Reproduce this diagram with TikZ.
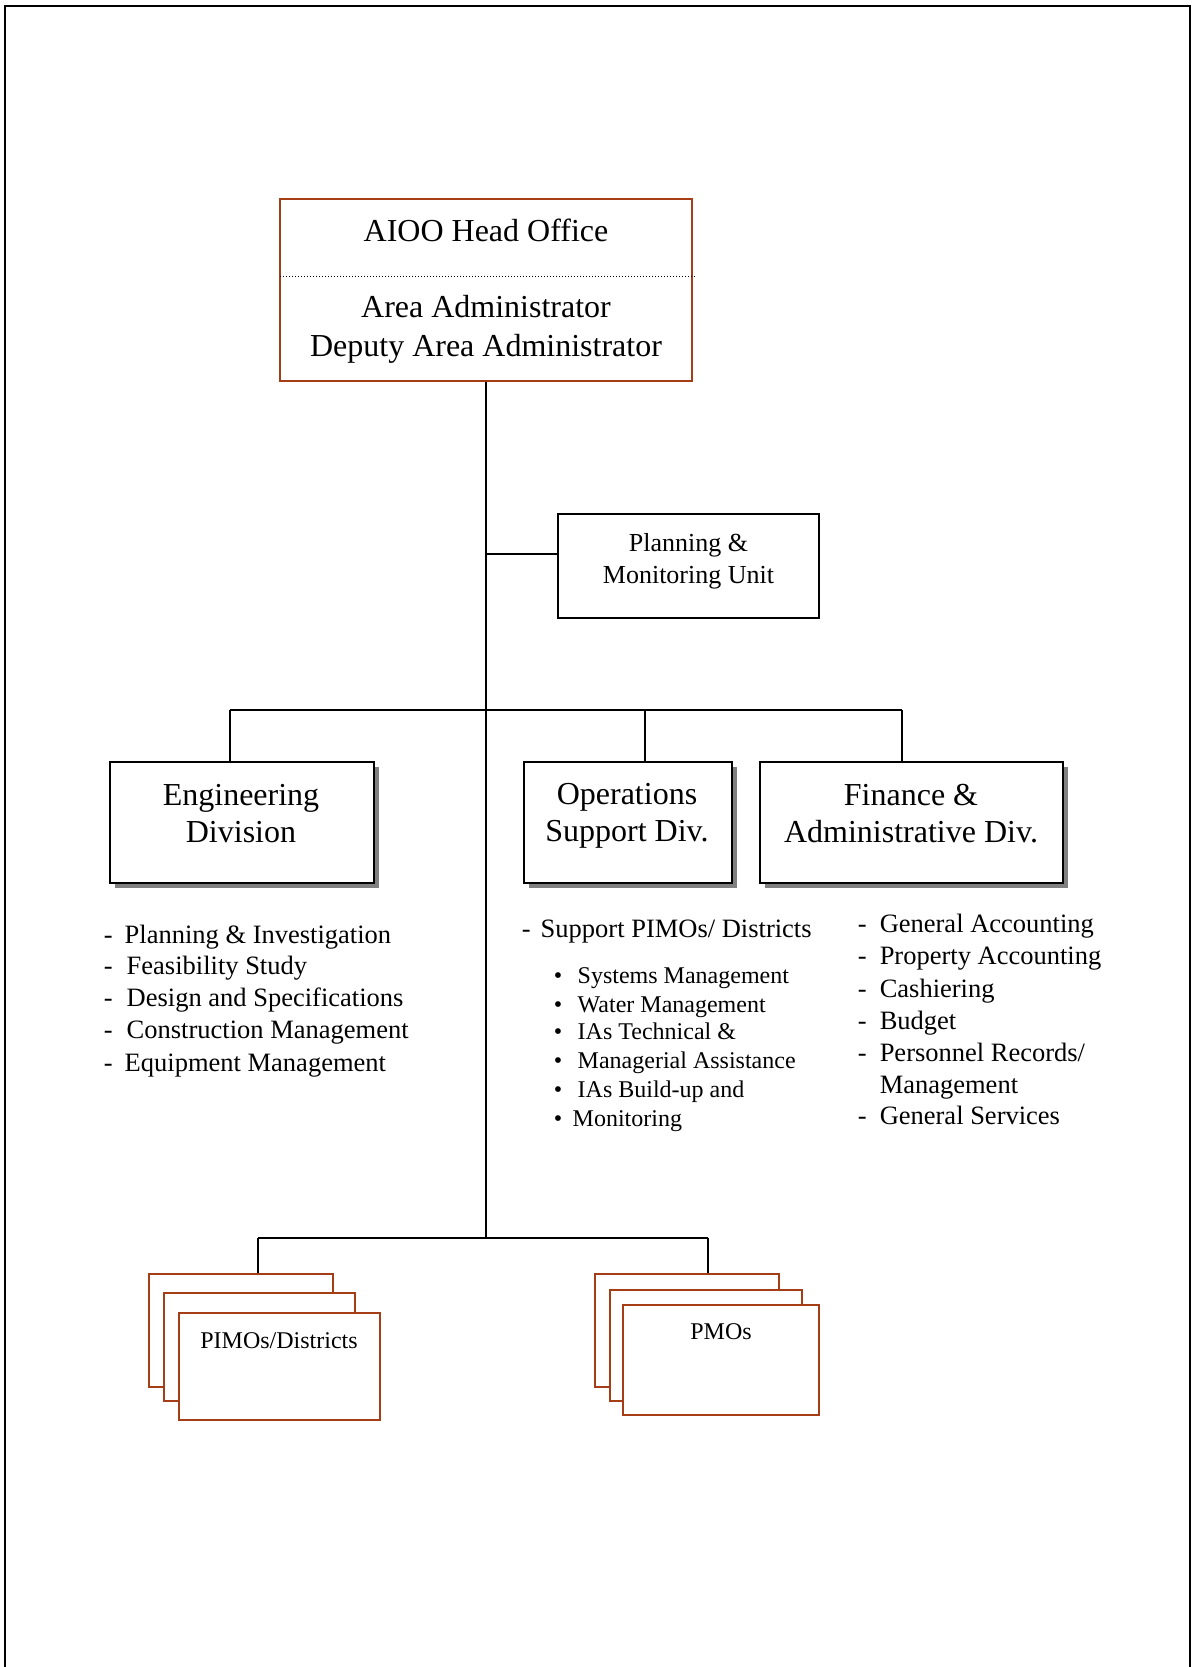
\documentclass[tikz,border=0pt]{standalone}
\usepackage{fontspec}
\setmainfont{Liberation Serif}
\usetikzlibrary{shadows}
\definecolor{brn}{RGB}{165,62,22}
\begin{document}
\begin{tikzpicture}[x=1pt,y=-1pt,line width=1.5pt,
  hbox/.style={draw=brn,line width=2pt,inner sep=0pt,fill=white},
  dbox/.style={draw=black,line width=1.6pt,inner sep=0pt,fill=white,
    drop shadow={shadow xshift=5pt,shadow yshift=-5pt,fill=black!50,opacity=1}},
  pbox/.style={draw=black,line width=1.6pt,inner sep=0pt,fill=white},
  sbox/.style={draw=brn,line width=1.8pt,inner sep=0pt,fill=white},
  big/.style={font=\fontsize{32}{38}\selectfont,align=center,inner sep=0pt},
  mid/.style={font=\fontsize{26.5}{32}\selectfont,inner sep=0pt,anchor=base west},
  sml/.style={font=\fontsize{24}{28}\selectfont,inner sep=0pt,anchor=base west},
  conn/.style={draw=black,line width=1.5pt}]
\useasboundingbox (0,0) rectangle (1192,1667);
% outer frame
\draw[line width=2.2pt] (5,1667) -- (5,6) -- (1190,6) -- (1190,1667);
% head office
\node[hbox,minimum width=412pt,minimum height=182pt] (head) at (486,290) {};
\draw[line width=1pt,dotted] (280,276) -- (695,276);
\node[big] (headt) at (486,230) {AIOO Head Office};
\node[big] (headt2) at (486,329) {Area Administrator\\[1pt]Deputy Area Administrator};
% planning
\node[pbox,minimum width=261pt,minimum height=104pt] (plan) at (688.5,566) {};
\node[font=\fontsize{26}{32}\selectfont,align=center,inner sep=0pt] (plant) at (688.5,561) {Planning \&\\Monitoring Unit};
% divisions
\node[dbox,minimum width=264pt,minimum height=121pt] (eng) at (242,822.5) {};
\node[dbox,minimum width=208pt,minimum height=121pt] (ops) at (628,822.5) {};
\node[dbox,minimum width=303pt,minimum height=121pt] (fin) at (911.5,822.5) {};
\node[big,font=\fontsize{32}{37}\selectfont] (engt) at (241,814) {Engineering\\Division};
\node[big,font=\fontsize{32}{37}\selectfont] (opst) at (627,816) {Operations\\Support Div.};
\node[big,font=\fontsize{32}{37}\selectfont] (fint) at (911,814) {Finance \&\\Administrative Div.};
% connectors
\coordinate (bb) at (486,1238);
\coordinate (pj) at (486,554);
\coordinate (b1) at (230,710);
\coordinate (b2) at (902,710);
\coordinate (b3) at (645,710);
\draw[conn] (head.south) -- (bb);
\draw[conn] (pj) -- (pj -| plan.west);
\draw[conn] (b1) -- (b2);
\draw[conn] (b1) -- (b1 |- eng.north);
\draw[conn] (b3) -- (b3 |- ops.north);
\draw[conn] (b2) -- (b2 |- fin.north);
% engineering list
\newcommand{\dsh}[2][18pt]{\makebox[#1][l]{-}#2}
\node[mid] (e1) at (103,943) {\dsh[21pt]{Planning \& Investigation}};
\node[mid] (e2) at (103,974) {\dsh[23pt]{Feasibility Study}};
\node[mid] (e3) at (103,1006) {\dsh[23pt]{Design and Specifications}};
\node[mid] (e4) at (103,1038) {\dsh[23pt]{Construction Management}};
\node[mid] (e5) at (103,1071) {\dsh[21pt]{Equipment Management}};
% operations list
\node[mid] (o0) at (521,937) {\dsh[19pt]{Support PIMOs/ Districts}};
\newcommand{\bul}[2][24pt]{\makebox[#1][l]{\textbullet}#2}
\node[sml] (o1) at (553,983) {\bul{Systems Management}};
\node[sml] (o2) at (553,1012) {\bul{Water Management}};
\node[sml] (o3) at (553,1039) {\bul{IAs Technical \&}};
\node[sml] (o4) at (553,1068) {\bul{Managerial Assistance}};
\node[sml] (o5) at (553,1097) {\bul{IAs Build-up and}};
\node[sml] (o6) at (553,1126) {\bul[19pt]{Monitoring}};
% finance list
\node[mid] (f1) at (857,932) {\dsh[22pt]{General Accounting}};
\node[mid] (f2) at (857,964) {\dsh[22pt]{Property Accounting}};
\node[mid] (f3) at (857,997) {\dsh[22pt]{Cashiering}};
\node[mid] (f4) at (857,1029) {\dsh[22pt]{Budget}};
\node[mid] (f5) at (857,1061) {\dsh[22pt]{Personnel Records/}};
\node[mid] (f6) at (879,1093) {Management};
\node[mid] (f7) at (857,1124) {\dsh[22pt]{General Services}};
% bottom
\coordinate (c1) at (258,1238);
\coordinate (c2) at (708,1238);
\draw[conn] (c1) -- (c2);
\node[sbox,minimum width=184pt,minimum height=113pt] (pim1) at (241,1330.5) {};
\node[sbox,minimum width=191pt,minimum height=108pt] (pim2) at (259.5,1347) {};
\node[sbox,minimum width=201pt,minimum height=107pt] (pim3) at (279.5,1366.5) {};
\node[font=\fontsize{24}{28}\selectfont,inner sep=0pt] (pimt) at (279,1341) {PIMOs/Districts};
\node[sbox,minimum width=184pt,minimum height=113pt] (pmo1) at (687,1330.5) {};
\node[sbox,minimum width=192pt,minimum height=111pt] (pmo2) at (706,1345.5) {};
\node[sbox,minimum width=196pt,minimum height=110pt] (pmo3) at (721,1360) {};
\node[font=\fontsize{24}{28}\selectfont,inner sep=0pt] (pmot) at (721,1332) {PMOs};
\draw[conn] (c1) -- (c1 |- pim1.north);
\draw[conn] (c2) -- (c2 |- pmo1.north);
\end{tikzpicture}
\end{document}
